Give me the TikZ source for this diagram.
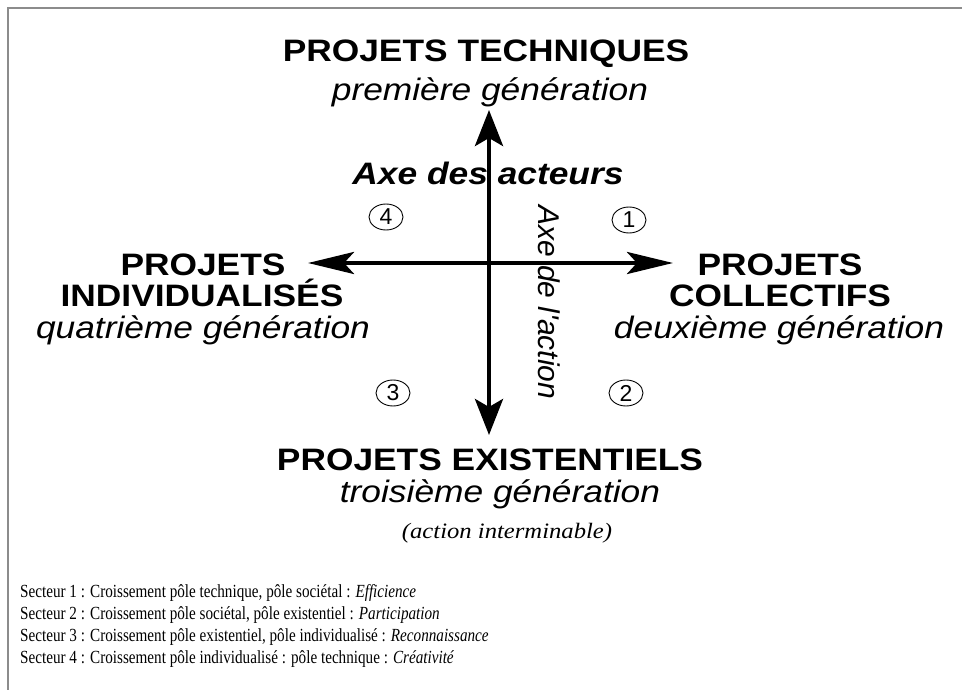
\documentclass[tikz,border=0pt]{standalone}
\usepackage{fontspec}
\setmainfont{Liberation Serif}
\newfontfamily\axefont[FakeStretch=1.14]{Liberation Sans}
\newfontfamily\rotfont{Liberation Sans}
\newfontfamily\notefont[FakeStretch=1.12]{Liberation Serif}
\newfontfamily\legfont[FakeStretch=0.82]{Liberation Serif}
\usetikzlibrary{arrows.meta,shapes.geometric}

\begin{document}
\begin{tikzpicture}[x=1pt,y=-1pt,
	pole/.style={anchor=base,inner sep=0pt,font=\axefont\bfseries\fontsize{31}{37}\selectfont},
	gen/.style={anchor=base,inner sep=0pt,font=\axefont\itshape\fontsize{31}{37}\selectfont},
	sector/.style={draw,ellipse,line width=0.9pt,minimum width=34pt,minimum height=26pt,inner sep=0pt,font=\rotfont\fontsize{23}{26}\selectfont},
	note/.style={anchor=base west,inner sep=0pt,font=\legfont\fontsize{18.5}{22}\selectfont},
	haxe/.style={line width=4.5pt,{Stealth[length=46pt,width=22pt,inset=10pt]}-{Stealth[length=46pt,width=22pt,inset=10pt]}},
	vaxe/.style={line width=4.5pt,{Stealth[length=36pt,width=28pt,inset=8pt]}-{Stealth[length=36pt,width=28pt,inset=8pt]}}]
	\useasboundingbox (0,0) rectangle (962,690);
	\draw[black!45,line width=2.5pt] (8,690) -- (8,8) -- (962,8);

	% axes
	\coordinate (W) at (308,263);
	\coordinate (E) at (673,263);
	\coordinate (N) at (489,110);
	\coordinate (S) at (489,435);
	\draw[haxe] (W) -- (E);
	\draw[vaxe] (N) -- (S);

	% poles
	\node[pole] (tech) at (486,62) {PROJETS TECHNIQUES};
	\node[gen] (gen1) at (490,101) {première génération};
	\node[pole] (coll) at (780,275) {PROJETS};
	\node[pole] (coll2) at (780,306) {COLLECTIFS};
	\node[gen] (gen2) at (779,338) {deuxième génération};
	\node[pole] (exis) at (490,470) {PROJETS EXISTENTIELS};
	\node[gen] (gen3) at (500,502) {troisième génération};
	\node[anchor=base,inner sep=0pt,font=\notefont\itshape\fontsize{22}{26}\selectfont] (inter) at (507,538) {(action interminable)};
	\node[pole] (indi) at (203,275) {PROJETS};
	\node[pole] (indi2) at (202,306) {INDIVIDUALISÉS};
	\node[gen] (gen4) at (203,338) {quatrième génération};

	% axis names
	\node[pole,font=\axefont\bfseries\itshape\fontsize{31}{37}\selectfont] (acteurs) at (488,185) {Axe des acteurs};
	\node[anchor=base west,inner sep=0pt,rotate=-90,font=\rotfont\itshape\fontsize{30}{36}\selectfont] (action) at (538,205) {Axe de l'action};

	% sectors
	\node[sector] (s1) at (629,220) {1};
	\node[sector] (s2) at (626,393) {2};
	\node[sector] (s3) at (393,393) {3};
	\node[sector] (s4) at (386,217) {4};

	% legend
	\node[note] (l1) at (20,597) {Secteur 1 : Croissement pôle technique, pôle sociétal : \textit{Efficience}};
	\node[note] (l2) at (20,619) {Secteur 2 : Croissement pôle sociétal, pôle existentiel : \textit{Participation}};
	\node[note] (l3) at (20,641) {Secteur 3 : Croissement pôle existentiel, pôle individualisé : \textit{Reconnaissance}};
	\node[note] (l4) at (20,663) {Secteur 4 : Croissement pôle individualisé : pôle technique : \textit{Créativité}};
\end{tikzpicture}
\end{document}
